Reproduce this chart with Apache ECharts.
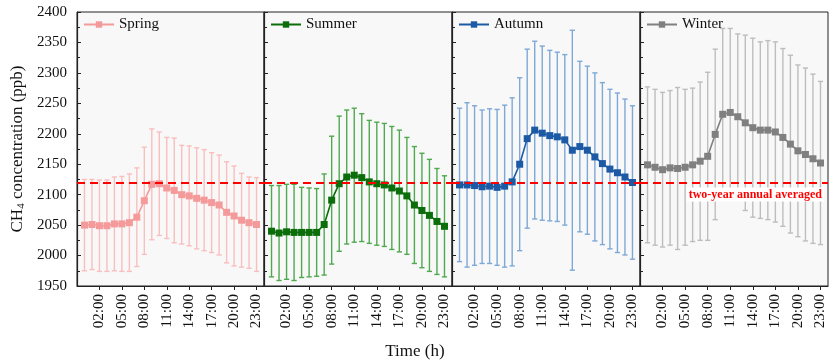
<!DOCTYPE html>
<html><head><meta charset="utf-8">
<script src="https://cdn.jsdelivr.net/npm/echarts@6/dist/echarts.min.js"></script>
<style>html,body{margin:0;padding:0;background:#fff}#c{width:830px;height:364px}</style>
</head><body><div id="c"></div>
<script>
const hours = [0,1,2,3,4,5,6,7,8,9,10,11,12,13,14,15,16,17,18,19,20,21,22,23];
const tickHours = [2,5,8,11,14,17,20,23];
const seasons = ['Spring','Summer','Autumn','Winter'];
const springMean = [2050,2051,2049,2049,2052,2052,2054,2063,2090,2117,2118,2111,2107,2100,2098,2094,2091,2087,2083,2071,2065,2058,2054,2051];
const springSD   = [75,74,75,75,77,78,80,81,88,91,85,83,86,81,82,83,83,82,82,83,82,77,75,77];
const summerMean = [2040,2037,2039,2038,2038,2038,2038,2051,2091,2118,2129,2132,2128,2121,2118,2116,2111,2106,2098,2083,2074,2066,2056,2048];
const summerSD   = [75,78,78,79,74,73,72,83,105,111,110,110,105,101,101,101,101,100,96,96,94,92,87,83];
const autumnMean = [2116,2116,2115,2113,2114,2112,2114,2121,2150,2192,2206,2201,2197,2195,2190,2173,2179,2173,2162,2151,2142,2136,2129,2120];
const autumnSD   = [126,135,131,126,127,128,133,138,142,147,146,143,140,139,140,197,140,138,138,133,131,131,128,126];
const winterMean = [2149,2145,2141,2144,2143,2145,2149,2155,2163,2199,2232,2235,2228,2218,2210,2206,2206,2203,2194,2183,2172,2166,2159,2152];
const winterSD   = [128,128,127,127,133,128,126,130,138,140,141,138,136,144,147,145,147,148,146,146,141,142,139,134];
const annualAvg = 2120;
const avgLabel = 'two-year annual averaged';
const xTitle = 'Time (h)';

const means = [springMean, summerMean, autumnMean, winterMean];
const sds = [springSD, summerSD, autumnSD, winterSD];
const lineColors = ['#f59a9a','#0b6e0b','#1c5aa6','#808080'];
const barColors  = ['#f9bebe','#4fa94f','#7ea8d6','#bdbdbd'];
const lefts = [77,264,452,640];
const widths = [187,188,188,188];
const FONT = '"Liberation Serif", "DejaVu Serif", serif';

const grid = [], xAxis = [], yAxis = [], series = [], legend = [];
for (let i = 0; i < 4; i++) {
  grid.push({left: lefts[i], width: widths[i], top: 12, height: 274, show: true,
    backgroundColor: '#f8f8f8', borderColor: '#222', borderWidth: 1});
  xAxis.push({type: 'value', gridIndex: i, min: -1, max: 24,
    axisLine: {show: true, onZero: false, lineStyle: {color: '#222', width: 1.2}},
    axisTick: {show: true, inside: false, length: 4, customValues: tickHours, lineStyle: {color: '#222'}},
    axisLabel: {customValues: tickHours, rotate: 90, margin: 8, fontFamily: FONT, fontSize: 15, color: '#111',
      formatter: v => (v < 10 ? '0' + v : '' + v) + ':00'},
    splitLine: {show: false}});
  yAxis.push({type: 'value', gridIndex: i, min: 1950, max: 2400, interval: 50,
    axisLine: {show: true, onZero: false, lineStyle: {color: '#222', width: 1.2}},
    axisTick: {show: true, inside: true, length: 4, lineStyle: {color: '#222'}},
    minorTick: {show: true, splitNumber: 2, length: 3, lineStyle: {color: '#222'}},
    axisLabel: {show: i === 0, margin: 10, fontFamily: FONT, fontSize: 15, color: '#111',
      formatter: v => String(v)},
    splitLine: {show: false},
    name: i === 0 ? '{a|CH}{b|4}{a| concentration (ppb)}' : '',
    nameLocation: 'middle', nameGap: 50, nameRotate: 90,
    nameTextStyle: {rich: {a: {fontFamily: FONT, fontSize: 17, color: '#111'},
      b: {fontFamily: FONT, fontSize: 11, color: '#111', padding: [7,0,0,0]}}}});
  const c = barColors[i];
  series.push({type: 'custom', name: seasons[i] + ' SD', xAxisIndex: i, yAxisIndex: i,
    data: hours.map((h, k) => [h, means[i][k], sds[i][k]]),
    encode: {x: 0, y: 1}, z: 1,
    renderItem: function (params, api) {
      const x = api.value(0), m = api.value(1), s = api.value(2);
      const t = api.coord([x, m + s]), b = api.coord([x, m - s]);
      const hw = 2.6;
      const st = {stroke: c, lineWidth: 1.4};
      return {type: 'group', children: [
        {type: 'line', shape: {x1: t[0], y1: t[1], x2: b[0], y2: b[1]}, style: st},
        {type: 'line', shape: {x1: t[0]-hw, y1: t[1], x2: t[0]+hw, y2: t[1]}, style: st},
        {type: 'line', shape: {x1: b[0]-hw, y1: b[1], x2: b[0]+hw, y2: b[1]}, style: st}]};
    }});
  series.push({type: 'line', name: seasons[i], xAxisIndex: i, yAxisIndex: i,
    data: hours.map((h, k) => [h, means[i][k]]), z: 3,
    symbol: 'rect', symbolSize: 7,
    lineStyle: {color: lineColors[i], width: 1.6},
    itemStyle: {color: lineColors[i]},
    markLine: {silent: true, symbol: 'none', z: 5,
      lineStyle: {color: '#ff0000', type: [8,5], width: 2},
      label: i === 3 ? {show: true, position: 'insideEndBottom', formatter: avgLabel,
        color: '#ff0000', fontWeight: 'bold', fontFamily: FONT, fontSize: 12,
        backgroundColor: '#fff', padding: [1,2,1,2], distance: [4,5]} : {show: false},
      data: [{yAxis: annualAvg}]}});
  legend.push({data: [seasons[i]], left: lefts[i] + 6, top: 17, itemWidth: 30, itemHeight: 8, itemGap: 4,
    textStyle: {fontFamily: FONT, fontSize: 15, color: '#111'}, padding: 0});
}

const chart = echarts.init(document.getElementById('c'), null, {renderer: 'canvas'});
chart.setOption({
  animation: false, backgroundColor: '#fff',
  grid, xAxis, yAxis, series, legend,
  graphic: [{type: 'text', left: 'center', top: 343, style: {text: xTitle, font: '17px ' + FONT, fill: '#111'}}]
});
</script></body></html>
